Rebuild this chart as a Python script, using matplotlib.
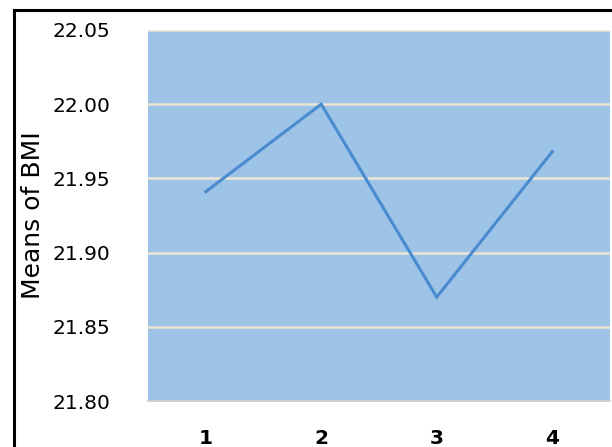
import matplotlib.pyplot as plt
from matplotlib.lines import Line2D

# group means of BMI
groups = ["1", "2", "3", "4"]
bmi_means = [21.941, 22.000, 21.870, 21.968]
yticks = [21.80, 21.85, 21.90, 21.95, 22.00, 22.05]

fig = plt.figure(figsize=(6.12, 4.47), dpi=100)
fig.patch.set_facecolor("white")
ax = fig.add_axes([0.2418, 0.1029, 0.7549, 0.8300])
ax.set_facecolor("#9dc3e6")

x = range(len(groups))
ax.plot(x, bmi_means, color="#4a8bd0", linewidth=2.2, solid_joinstyle="miter")

ax.set_xlim(-0.5, len(groups) - 0.5)
ax.set_ylim(21.80, 22.05)
ax.set_xticks(list(x))
ax.set_xticklabels(groups, fontsize=14.5, fontweight="bold")
ax.set_yticks(yticks)
ax.set_yticklabels(["%.2f" % v for v in yticks], fontsize=14.5)
ax.tick_params(axis="both", length=0)
ax.tick_params(axis="y", pad=27)
ax.tick_params(axis="x", pad=20)

ax.grid(axis="y", color="#ece4d4", linewidth=1.8)
ax.set_axisbelow(True)
for side in ["top", "right", "left"]:
    ax.spines[side].set_visible(False)
ax.spines["bottom"].set_color("#c8c8c8")
ax.spines["bottom"].set_linewidth(1.2)

ax.set_ylabel("Means of BMI", fontsize=18)
ax.yaxis.set_label_coords(-0.222, 0.5)

# outer frame
fig.add_artist(Line2D([14 / 612, 14 / 612], [0, 1 - 10 / 447],
                      color="black", linewidth=2.2, transform=fig.transFigure))
fig.add_artist(Line2D([14 / 612, 1], [1 - 10 / 447, 1 - 10 / 447],
                      color="black", linewidth=2.2, transform=fig.transFigure))

fig.savefig("out.png", dpi=100)
